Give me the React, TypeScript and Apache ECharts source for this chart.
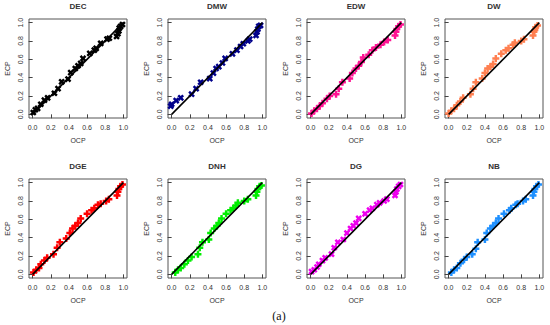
import React, { useEffect, useRef } from "react";
import * as echarts from "echarts";

const panelNames = ["DEC", "DMW", "EDW", "DW", "DGE", "DNH", "DG", "NB"];
const panelColors = ["#000000", "#00008B", "#FF1493", "#FF7F50", "#FF0000", "#00EE00", "#EE00EE", "#1E90FF"];
const panelMarkers = ["cross", "cross", "plus", "plus", "plus", "plus", "cross", "plus"];
const tickValues = [0, 0.2, 0.4, 0.6, 0.8, 1.0];

const decOCP = [0.007, 0.03, 0.055, 0.09, 0.13, 0.165, 0.24, 0.28, 0.32, 0.39, 0.42, 0.47, 0.5, 0.53, 0.555, 0.63, 0.68, 0.7, 0.75, 0.82, 0.845, 0.925, 0.94, 0.95, 0.955, 0.97, 0.99];
const decECP = [0.02, 0.05, 0.065, 0.11, 0.155, 0.18, 0.23, 0.28, 0.355, 0.385, 0.455, 0.5, 0.53, 0.555, 0.61, 0.665, 0.7, 0.72, 0.775, 0.82, 0.83, 0.85, 0.88, 0.91, 0.94, 0.96, 0.98];

const dmwOCP = [-0.01, 0.0, 0.05, 0.1, 0.22, 0.27, 0.32, 0.42, 0.46, 0.49, 0.52, 0.56, 0.59, 0.67, 0.72, 0.76, 0.79, 0.84, 0.86, 0.93, 0.94, 0.95, 0.96, 0.98];
const dmwECP = [0.09, 0.11, 0.15, 0.18, 0.22, 0.28, 0.35, 0.39, 0.45, 0.5, 0.52, 0.56, 0.61, 0.66, 0.7, 0.74, 0.77, 0.8, 0.82, 0.86, 0.9, 0.93, 0.96, 0.97];

const edwOCP = [0.01, 0.04, 0.07, 0.1, 0.13, 0.18, 0.21, 0.28, 0.31, 0.35, 0.43, 0.46, 0.5, 0.53, 0.56, 0.58, 0.64, 0.68, 0.72, 0.77, 0.81, 0.85, 0.93, 0.94, 0.95, 0.97, 0.99];
const edwECP = [0.01, 0.04, 0.06, 0.09, 0.12, 0.17, 0.2, 0.22, 0.28, 0.35, 0.39, 0.45, 0.5, 0.53, 0.57, 0.62, 0.65, 0.7, 0.73, 0.76, 0.79, 0.81, 0.86, 0.9, 0.93, 0.96, 0.98];

const dwOCP = [0.0, 0.03, 0.06, 0.09, 0.13, 0.16, 0.24, 0.27, 0.3, 0.37, 0.4, 0.43, 0.46, 0.49, 0.52, 0.58, 0.63, 0.66, 0.71, 0.73, 0.8, 0.83, 0.93, 0.94, 0.95, 0.96, 0.98];
const dwECP = [0.01, 0.04, 0.06, 0.1, 0.14, 0.18, 0.22, 0.28, 0.35, 0.39, 0.45, 0.5, 0.52, 0.55, 0.61, 0.66, 0.7, 0.72, 0.76, 0.78, 0.8, 0.82, 0.86, 0.9, 0.92, 0.95, 0.97];

const dgeOCP = [0.01, 0.04, 0.07, 0.09, 0.13, 0.16, 0.23, 0.27, 0.3, 0.37, 0.41, 0.44, 0.47, 0.5, 0.53, 0.6, 0.65, 0.68, 0.72, 0.75, 0.81, 0.84, 0.93, 0.94, 0.95, 0.97, 0.99];
const dgeECP = [0.02, 0.05, 0.07, 0.11, 0.15, 0.18, 0.22, 0.29, 0.35, 0.39, 0.45, 0.5, 0.53, 0.56, 0.61, 0.66, 0.7, 0.72, 0.76, 0.77, 0.8, 0.82, 0.86, 0.9, 0.93, 0.96, 0.98];

const dnhOCP = [0.04, 0.07, 0.1, 0.14, 0.18, 0.22, 0.29, 0.31, 0.34, 0.41, 0.43, 0.47, 0.5, 0.52, 0.55, 0.6, 0.65, 0.68, 0.71, 0.73, 0.8, 0.84, 0.93, 0.94, 0.95, 0.97, 0.99];
const dnhECP = [0.02, 0.05, 0.07, 0.11, 0.15, 0.19, 0.22, 0.29, 0.35, 0.38, 0.45, 0.5, 0.53, 0.56, 0.61, 0.66, 0.7, 0.72, 0.75, 0.78, 0.8, 0.82, 0.86, 0.9, 0.93, 0.96, 0.97];

const dgOCP = [0.01, 0.04, 0.07, 0.09, 0.13, 0.16, 0.23, 0.26, 0.3, 0.36, 0.4, 0.44, 0.47, 0.5, 0.53, 0.6, 0.65, 0.68, 0.73, 0.76, 0.81, 0.84, 0.93, 0.94, 0.95, 0.97, 0.99];
const dgECP = [0.03, 0.05, 0.08, 0.11, 0.15, 0.18, 0.22, 0.29, 0.35, 0.38, 0.45, 0.5, 0.53, 0.56, 0.61, 0.66, 0.7, 0.72, 0.76, 0.78, 0.8, 0.82, 0.86, 0.9, 0.93, 0.96, 0.98];

const nbOCP = [0.03, 0.06, 0.09, 0.13, 0.17, 0.2, 0.26, 0.3, 0.32, 0.4, 0.42, 0.46, 0.49, 0.52, 0.55, 0.61, 0.67, 0.69, 0.74, 0.76, 0.82, 0.85, 0.93, 0.94, 0.95, 0.97, 0.99];
const nbECP = [0.02, 0.05, 0.07, 0.12, 0.16, 0.19, 0.22, 0.28, 0.35, 0.38, 0.45, 0.5, 0.53, 0.56, 0.61, 0.66, 0.7, 0.72, 0.76, 0.77, 0.8, 0.82, 0.86, 0.9, 0.93, 0.96, 0.98];

const panelOCP = [decOCP, dmwOCP, edwOCP, dwOCP, dgeOCP, dnhOCP, dgOCP, nbOCP];
const panelECP = [decECP, dmwECP, edwECP, dwECP, dgeECP, dnhECP, dgECP, nbECP];
const diagonal = [[0, 0], [1, 1]];

const PLUS = "path://M-1.4,-4H1.4V-1.4H4V1.4H1.4V4H-1.4V1.4H-4V-1.4H-1.4Z";

export default function App() {
  const ref = useRef<HTMLDivElement>(null);
  useEffect(() => {
    document.body.style.margin = "0";
    const chart = echarts.init(ref.current!, null, { renderer: "svg" });
    const lefts = [29, 168, 307, 445];
    const tops = [19, 179];
    const W = 98;
    const H = 99;
    const grids: any[] = [];
    const xAxes: any[] = [];
    const yAxes: any[] = [];
    const series: any[] = [];
    const graphics: any[] = [];
    const font = "Liberation Sans, Arial, sans-serif";
    panelNames.forEach((name, i) => {
      const col = i % 4;
      const row = Math.floor(i / 4);
      const left = lefts[col];
      const top = tops[row];
      grids.push({
        left, top, width: W, height: H,
        show: true, borderColor: "#555", borderWidth: 1, backgroundColor: "transparent",
        containLabel: false,
      });
      const axisCommon = {
        min: -0.04, max: 1.04,
        splitLine: { show: false },
        axisLine: { show: false },
        axisTick: { show: true, inside: false, length: 4, customValues: tickValues, lineStyle: { color: "#444", width: 1 } },
        nameTextStyle: { fontSize: 7, color: "#333", fontFamily: font },
        nameLocation: "middle",
      };
      xAxes.push({
        ...axisCommon, type: "value", gridIndex: i, name: "OCP", nameGap: 19,
        axisLabel: { customValues: tickValues, fontSize: 7, color: "#333", fontFamily: font, margin: 6, formatter: (v: number) => v.toFixed(1) },
      });
      yAxes.push({
        ...axisCommon, type: "value", gridIndex: i, name: "ECP", nameGap: 18,
        axisLabel: { customValues: tickValues, fontSize: 7, color: "#333", fontFamily: font, margin: 5, rotate: 90, formatter: (v: number) => v.toFixed(1) },
      });
      const pts = panelOCP[i].map((x, k) => [x, panelECP[i][k]]);
      series.push({
        type: "scatter", xAxisIndex: i, yAxisIndex: i, data: pts,
        symbol: PLUS, symbolSize: 7, symbolRotate: panelMarkers[i] === "cross" ? 45 : 0,
        itemStyle: { color: panelColors[i], opacity: 1 }, z: 2,
      });
      series.push({
        type: "line", xAxisIndex: i, yAxisIndex: i, data: diagonal, symbol: "none",
        lineStyle: { color: "#000", width: 1.6 }, z: 3,
      });
      graphics.push({
        type: "text", x: left + W / 2, y: row === 0 ? 6 : 166,
        style: { text: name, fontSize: 8, fontWeight: "bold", fill: "#333", fontFamily: font, textAlign: "center", textVerticalAlign: "middle" },
      });
    });
    graphics.push({
      type: "text", x: 279, y: 316,
      style: { text: "(a)", fontSize: 12, fill: "#111", fontFamily: "Liberation Serif, serif", textAlign: "center", textVerticalAlign: "middle" },
    });
    chart.setOption({
      animation: false,
      backgroundColor: "#fff",
      grid: grids,
      xAxis: xAxes,
      yAxis: yAxes,
      series,
      graphic: graphics,
    });
    return () => chart.dispose();
  }, []);
  return <div ref={ref} style={{ width: 550, height: 325 }} />;
}
